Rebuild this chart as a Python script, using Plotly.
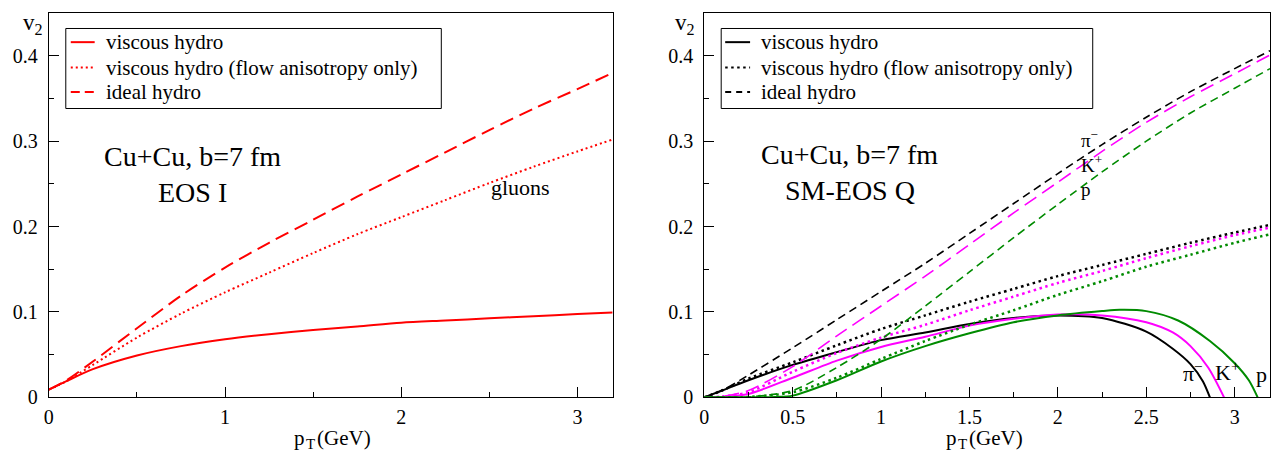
import plotly.graph_objects as go

# The page body keeps its default 8px margin, so the figure is sized to fill
# the 1285x471 window exactly; positions below are given in window pixels.
OFF = 8
W, H = 1285 - 2 * OFF, 471 - 2 * OFF
FONT = "Liberation Serif, Times New Roman, Times, serif"

# ---------------- data: left panel (gluons, EOS I) ----------------
pt_left = [0, 0.1, 0.25, 0.5, 0.75, 1.0, 1.25, 1.5, 1.75, 2.0, 2.25, 2.5, 2.75, 3.0, 3.2]
v2_left_viscous = [0.009, 0.019, 0.033, 0.049, 0.060, 0.068, 0.074, 0.079, 0.083, 0.0875, 0.090, 0.0925, 0.095, 0.0975, 0.0995]
v2_left_flow = [0.009, 0.019, 0.038, 0.070, 0.098, 0.123, 0.146, 0.169, 0.191, 0.211, 0.231, 0.251, 0.270, 0.288, 0.302]
v2_left_ideal = [0.009, 0.020, 0.042, 0.081, 0.119, 0.152, 0.181, 0.208, 0.235, 0.261, 0.287, 0.313, 0.338, 0.361, 0.380]

# ---------------- data: right panel (SM-EOS Q) ----------------
pt_right = [0, 0.1, 0.25, 0.5, 0.75, 1.0, 1.25, 1.5, 1.75, 2.0, 2.25, 2.5, 2.75, 3.0, 3.2]
ideal_pi = [0, 0.008, 0.026, 0.058, 0.091, 0.124, 0.157, 0.192, 0.227, 0.262, 0.296, 0.328, 0.358, 0.385, 0.406]
ideal_K = [0, 0.001, 0.008, 0.036, 0.072, 0.107, 0.142, 0.179, 0.216, 0.252, 0.288, 0.322, 0.352, 0.379, 0.401]
ideal_p = [0, 0.0, 0.0005, 0.008, 0.035, 0.068, 0.107, 0.147, 0.187, 0.226, 0.264, 0.300, 0.333, 0.362, 0.385]
flow_pi = [0, 0.008, 0.022, 0.041, 0.061, 0.080, 0.096, 0.112, 0.127, 0.142, 0.155, 0.168, 0.181, 0.193, 0.202]
flow_K = [0, 0.001, 0.006, 0.030, 0.052, 0.070, 0.085, 0.102, 0.118, 0.134, 0.148, 0.163, 0.177, 0.190, 0.199]
flow_p = [0, 0.0, 0.0005, 0.006, 0.023, 0.045, 0.066, 0.085, 0.102, 0.120, 0.136, 0.153, 0.167, 0.181, 0.191]

pt_visc_pi = [0, 0.1, 0.25, 0.5, 0.75, 1.0, 1.25, 1.5, 1.75, 2.0, 2.25, 2.5, 2.65, 2.75, 2.82, 2.86]
visc_pi = [0, 0.008, 0.020, 0.038, 0.053, 0.067, 0.076, 0.086, 0.093, 0.096, 0.093, 0.077, 0.057, 0.039, 0.019, 0.0]
pt_visc_K = [0, 0.1, 0.25, 0.5, 0.75, 1.0, 1.25, 1.5, 1.75, 2.0, 2.25, 2.5, 2.65, 2.75, 2.85, 2.94]
visc_K = [0, 0.0005, 0.004, 0.023, 0.043, 0.059, 0.071, 0.084, 0.092, 0.097, 0.096, 0.088, 0.076, 0.060, 0.035, 0.0]
pt_visc_p = [0, 0.25, 0.4, 0.5, 0.75, 1.0, 1.25, 1.5, 1.75, 2.0, 2.25, 2.35, 2.5, 2.68, 2.86, 3.0, 3.08, 3.13]
visc_p = [0, 0, 0.0005, 0.002, 0.020, 0.042, 0.060, 0.075, 0.088, 0.096, 0.101, 0.1025, 0.101, 0.090, 0.066, 0.040, 0.020, 0.0]

legend_labels = ["viscous hydro", "viscous hydro (flow anisotropy only)", "ideal hydro"]

RED = "#ff0000"
BLACK = "#000000"
MAGENTA = "#ff00ff"
GREEN = "#008b00"

DOT_L = "2px,3px"
DASH_L = "14px,7px"
DOT_R = "2.5px,3.5px"
DASH_R = "8px,5px"

fig = go.Figure()


def line(x, y, color, dash, width, xa, ya, name=""):
    fig.add_trace(go.Scatter(
        x=x, y=y, mode="lines", xaxis=xa, yaxis=ya, name=name, showlegend=False,
        line=dict(color=color, dash=dash, width=width, shape="spline", smoothing=0.8),
        hoverinfo="skip"))


# left panel (gluons)
line(pt_left, v2_left_viscous, RED, "solid", 2, "x", "y", legend_labels[0])
line(pt_left, v2_left_flow, RED, DOT_L, 2, "x", "y", legend_labels[1])
line(pt_left, v2_left_ideal, RED, DASH_L, 2, "x", "y", legend_labels[2])

# right panel (pi-, K+, p)
line(pt_visc_pi, visc_pi, BLACK, "solid", 2, "x2", "y2", legend_labels[0])
line(pt_right, flow_pi, BLACK, DOT_R, 2.5, "x2", "y2", legend_labels[1])
line(pt_right, ideal_pi, BLACK, DASH_R, 1.6, "x2", "y2", legend_labels[2])
line(pt_visc_K, visc_K, MAGENTA, "solid", 2, "x2", "y2")
line(pt_right, flow_K, MAGENTA, DOT_R, 2.5, "x2", "y2")
line(pt_right, ideal_K, MAGENTA, "14px,7px", 1.6, "x2", "y2")
line(pt_visc_p, visc_p, GREEN, "solid", 2, "x2", "y2")
line(pt_right, flow_p, GREEN, DOT_R, 2.5, "x2", "y2")
line(pt_right, ideal_p, GREEN, DASH_R, 1.6, "x2", "y2")


def px(x):
    return (x - OFF) / W


def py(y):
    return 1 - (y - OFF) / H


ydom = [py(407), py(13.25)]
tickfont = dict(family=FONT, size=20, color="black")
common_axis = dict(showline=True, mirror=True, linecolor="black", linewidth=1,
                   ticks="inside", ticklen=10, tickwidth=1, tickcolor="black",
                   showgrid=False, zeroline=False, tickfont=tickfont)

fig.update_layout(
    width=W, height=H, autosize=False,
    margin=dict(l=0, r=0, t=0, b=0),
    paper_bgcolor="white", plot_bgcolor="white",
    font=dict(family=FONT, color="black"),
    showlegend=False,
    xaxis=dict(domain=[px(44), px(610)], range=[0, 3.2], anchor="y", tick0=0, dtick=1,
               minor=dict(dtick=0.5, tick0=0, ticks="inside", ticklen=5, tickcolor="black"),
               ticklabelstandoff=2, **common_axis),
    yaxis=dict(domain=ydom, range=[0, 0.45], anchor="x", tick0=0, dtick=0.1,
               minor=dict(dtick=0.05, tick0=0, ticks="inside", ticklen=5, tickcolor="black"),
               ticklabelstandoff=6, **common_axis),
    xaxis2=dict(domain=[px(702), px(1270)], range=[0, 3.2], anchor="y2", tick0=0, dtick=0.5,
                minor=dict(dtick=0.25, tick0=0, ticks="inside", ticklen=5, tickcolor="black"),
                ticklabelstandoff=2, **common_axis),
    yaxis2=dict(domain=ydom, range=[0, 0.45], anchor="x2", tick0=0, dtick=0.1,
                minor=dict(dtick=0.05, tick0=0, ticks="inside", ticklen=5, tickcolor="black"),
                ticklabelstandoff=6, **common_axis),
)


def ann(text, x, y, size, xanchor="center", yanchor="middle", align="center"):
    fig.add_annotation(text=text, x=px(x), y=py(y), xref="paper", yref="paper",
                       xanchor=xanchor, yanchor=yanchor, showarrow=False, align=align,
                       font=dict(family=FONT, size=size, color="black"))


# ---- legend boxes (framed key in each panel) ----
def legend_box(x0, x1, y0, y1, sample_x0, sample_x1, text_x, color, styles):
    fig.add_shape(type="rect", xref="paper", yref="paper",
                  x0=px(x0), x1=px(x1), y0=py(y1), y1=py(y0),
                  line=dict(color="black", width=1), fillcolor="white", layer="above")
    rows = [43, 69, 94]
    for (label, dash), yr in zip(zip(legend_labels, styles), rows):
        fig.add_shape(type="line", xref="paper", yref="paper",
                      x0=px(sample_x0), x1=px(sample_x1), y0=py(yr), y1=py(yr),
                      line=dict(color=color, width=2, dash=dash), layer="above")
        ann(label, text_x, yr, 21, "left")


legend_box(61, 438, 29, 111, 66, 90, 99, RED, ["solid", DOT_L, "9px,5px"])
legend_box(719, 1092, 29, 111, 723, 748, 757, BLACK, ["solid", DOT_R, "6px,5px"])

# axis titles: v_2 on the y axes, p_T(GeV) on the x axes (subscript set as a
# smaller, lowered piece so the title stays compact under the tick labels)
ann("v<sub>2</sub>", 16, OFF, 23, "left", "top")
ann("v<sub>2</sub>", 671, OFF, 23, "left", "top")


def pt_title(x_left):
    ann("p", x_left, 463, 21, "left", "bottom")
    ann("T", x_left + 12, 465, 15, "left", "bottom")
    ann("(GeV)", x_left + 23, 463, 21, "left", "bottom")


pt_title(288)
pt_title(943)

# panel texts
ann("Cu+Cu, b=7 fm", 188, 160, 28)
ann("EOS I", 188, 197, 28)
ann("gluons", 518, 192, 22)
ann("Cu+Cu, b=7 fm", 848, 158, 28)
ann("SM-EOS Q", 848, 195, 28)

# particle labels
ann("π<sup>−</sup><br>K<sup>+</sup><br>p", 1078, 167, 19, "left", "middle", "left")
ann("π<sup>−</sup>", 1181, 381, 22, "left")
ann("K<sup>+</sup>", 1213, 380, 22, "left")
ann("p", 1254, 384, 22, "left")

fig.write_html("out.html", config={"displayModeBar": False})
